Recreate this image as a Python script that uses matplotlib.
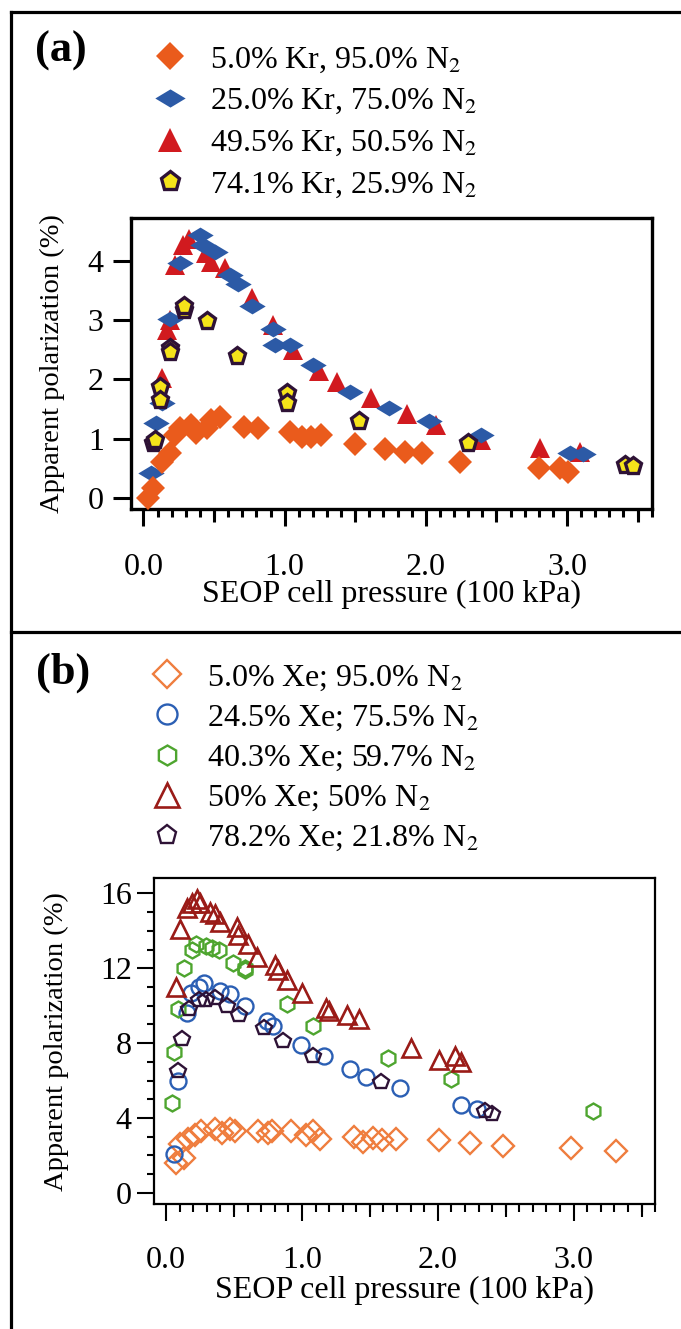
import matplotlib
matplotlib.use("Agg")
import matplotlib.pyplot as plt
from matplotlib.lines import Line2D
from matplotlib.ticker import MultipleLocator, FixedLocator, FormatStrFormatter

plt.rcParams['font.family'] = ['Liberation Serif', 'DejaVu Serif']
plt.rcParams['mathtext.fontset'] = 'stix'

# ---- panel (a): Kr mixtures ----
kr5_x = [0.03, 0.07, 0.13, 0.19, 0.22, 0.26, 0.34, 0.37, 0.45, 0.48, 0.54, 0.71, 0.81,
         1.04, 1.12, 1.19, 1.26, 1.50, 1.71, 1.85, 1.97, 2.24, 2.80, 2.95, 3.01]
kr5_y = [0.00, 0.16, 0.61, 0.75, 1.06, 1.18, 1.23, 1.09, 1.18, 1.32, 1.37, 1.20, 1.18,
         1.12, 1.03, 1.03, 1.06, 0.91, 0.83, 0.77, 0.75, 0.60, 0.50, 0.50, 0.43]

kr25_x = [0.05, 0.09, 0.13, 0.19, 0.26, 0.40, 0.42, 0.51, 0.61, 0.67, 0.77, 0.92, 0.93,
          1.04, 1.20, 1.46, 1.74, 2.02, 2.39, 3.02, 3.11]
kr25_y = [0.42, 1.26, 1.61, 3.02, 3.97, 4.45, 4.28, 4.15, 3.76, 3.62, 3.25, 2.86, 2.59,
          2.59, 2.24, 1.79, 1.51, 1.30, 1.06, 0.75, 0.74]

kr50_x = [0.13, 0.17, 0.19, 0.22, 0.28, 0.32, 0.44, 0.48, 0.58, 0.77, 0.92, 1.06, 1.24,
          1.37, 1.61, 1.87, 2.07, 2.39, 2.81, 3.09]
kr50_y = [2.02, 2.84, 3.00, 3.93, 4.27, 4.38, 4.13, 3.99, 3.88, 3.37, 2.92, 2.50, 2.14,
          1.96, 1.69, 1.42, 1.23, 0.98, 0.84, 0.77]

kr74_x = [0.07, 0.08, 0.12, 0.12, 0.19, 0.19, 0.29, 0.29, 0.45, 0.66, 1.02, 1.02, 1.53,
          2.30, 3.41, 3.47]
kr74_y = [0.92, 0.98, 1.88, 1.65, 2.53, 2.47, 3.17, 3.25, 2.99, 2.39, 1.77, 1.61, 1.30,
          0.92, 0.56, 0.54]

kr_labels = [r'5.0% Kr, 95.0% N$_2$', r'25.0% Kr, 75.0% N$_2$',
             r'49.5% Kr, 50.5% N$_2$', r'74.1% Kr, 25.9% N$_2$']

# ---- panel (b): Xe mixtures ----
xe5_x = [0.07, 0.13, 0.10, 0.16, 0.21, 0.26, 0.36, 0.41, 0.47, 0.51, 0.68, 0.75, 0.78,
         0.92, 1.03, 1.08, 1.13, 1.38, 1.45, 1.52, 1.59, 1.69, 2.01, 2.24, 2.48, 2.98, 3.31]
xe5_y = [1.6, 1.85, 2.6, 2.9, 3.1, 3.3, 3.4, 3.2, 3.4, 3.3, 3.3, 3.2, 3.3,
         3.3, 3.1, 3.3, 2.9, 3.0, 2.7, 2.95, 2.8, 2.9, 2.85, 2.65, 2.5, 2.4, 2.25]

xe24_x = [0.06, 0.09, 0.15, 0.18, 0.24, 0.28, 0.40, 0.47, 0.58, 0.74, 0.79, 0.99, 1.16,
          1.35, 1.47, 1.72, 2.17, 2.29]
xe24_y = [2.1, 6.0, 9.6, 10.7, 11.0, 11.2, 10.8, 10.6, 10.0, 9.2, 8.9, 7.9, 7.3,
          6.6, 6.2, 5.6, 4.7, 4.5]

xe40_x = [0.04, 0.06, 0.09, 0.13, 0.19, 0.22, 0.29, 0.34, 0.39, 0.49, 0.58, 0.58, 0.89,
          1.08, 1.63, 2.10, 3.14]
xe40_y = [4.8, 7.5, 9.8, 12.0, 13.0, 13.3, 13.2, 13.1, 13.0, 12.3, 11.9, 12.0, 10.1,
          8.9, 7.2, 6.1, 4.4]

xe50_x = [0.07, 0.10, 0.15, 0.19, 0.23, 0.25, 0.32, 0.36, 0.40, 0.52, 0.53, 0.60, 0.67,
          0.80, 0.82, 0.89, 1.00, 1.18, 1.20, 1.33, 1.42, 1.80, 2.01, 2.13, 2.17]
xe50_y = [11.0, 14.1, 15.2, 15.5, 15.7, 15.5, 15.0, 14.9, 14.5, 14.2, 13.8, 13.3, 12.6,
          12.2, 11.9, 11.4, 10.7, 9.9, 9.7, 9.5, 9.3, 7.75, 7.1, 7.3, 7.0]

xe78_x = [0.09, 0.12, 0.17, 0.24, 0.29, 0.36, 0.45, 0.54, 0.72, 0.86, 1.08, 1.58, 2.35, 2.40]
xe78_y = [6.5, 8.2, 9.8, 10.3, 10.3, 10.4, 10.0, 9.5, 8.8, 8.1, 7.3, 5.9, 4.4, 4.2]

xe_labels = [r'5.0% Xe; 95.0% N$_2$', r'24.5% Xe; 75.5% N$_2$', r'40.3% Xe; 59.7% N$_2$',
             r'50% Xe; 50% N$_2$', r'78.2% Xe; 21.8% N$_2$']

FS = 23
flat_diamond = [(-1, 0), (0, 0.6), (1, 0), (0, -0.6), (-1, 0)]

fig = plt.figure(figsize=(6.81, 13.29), dpi=100)

# outer frame and separator
fig.add_artist(Line2D([0.016, 1.0], [0.991, 0.991], color='black', lw=2.3))
fig.add_artist(Line2D([0.016, 0.016], [0.0, 0.991], color='black', lw=2.3))
fig.add_artist(Line2D([0.016, 1.0], [0.5245, 0.5245], color='black', lw=2.3))


def style_xaxis(ax, lw, tw, pad):
    ax.set_xlim(-0.09, 3.6)
    ax.xaxis.set_major_locator(MultipleLocator(1.0))
    ax.xaxis.set_minor_locator(MultipleLocator(0.1))
    ax.xaxis.set_major_formatter(FormatStrFormatter('%.1f'))
    ax.tick_params(axis='x', which='major', direction='out', length=12, width=tw,
                   labelsize=FS, pad=pad)
    ax.tick_params(axis='x', which='minor', direction='out', length=6, width=tw)
    sec = ax.secondary_xaxis('bottom')
    sec.xaxis.set_major_locator(FixedLocator([0.5, 1.5, 2.5, 3.5]))
    sec.tick_params(axis='x', direction='out', length=9, width=tw, labelbottom=False)
    sec.spines['bottom'].set_visible(False)
    for s in ax.spines.values():
        s.set_linewidth(lw)


# ---- (a) ----
ax1 = fig.add_axes([0.192, 0.617, 0.765, 0.219])
ax1.plot(kr50_x, kr50_y, '^', color='#d11a1f', ms=15, mew=0, label=kr_labels[2], zorder=3)
ax1.plot(kr25_x, kr25_y, marker=flat_diamond, ls='none', color='#2c5aa6', ms=19, mew=0,
         label=kr_labels[1], zorder=4)
ax1.plot(kr74_x, kr74_y, 'p', color='#f5e31a', mec='#2e1236', ms=12.5, mew=2.4,
         label=kr_labels[3], zorder=5)
ax1.plot(kr5_x, kr5_y, 'D', color='#ea5b1c', ms=12, mew=0, label=kr_labels[0], zorder=6)
ax1.set_ylim(-0.19, 4.73)
ax1.yaxis.set_major_locator(MultipleLocator(1))
ax1.tick_params(axis='y', direction='out', length=13, width=2.2, labelsize=FS, pad=6.5)
style_xaxis(ax1, 2.4, 2.2, 20)
ax1.set_xlabel('SEOP cell pressure (100 kPa)', fontsize=FS, labelpad=-2)
ax1.set_ylabel('Apparent polarization (%)', fontsize=20.5, labelpad=16.5)

h, l = ax1.get_legend_handles_labels()
order = [3, 1, 0, 2]
ax1.legend([h[i] for i in order], [l[i] for i in order], loc='upper left',
           bbox_to_anchor=(0.226, 0.966), bbox_transform=fig.transFigure, frameon=False,
           fontsize=FS, handlelength=1.0, handletextpad=0.75, borderpad=0,
           borderaxespad=0, labelspacing=0.38, markerscale=1.15)
fig.text(0.09, 0.962, '(a)', fontsize=32, fontweight='bold', ha='center', va='center')

# ---- (b) ----
ax2 = fig.add_axes([0.226, 0.094, 0.736, 0.245])
ax2.plot(xe5_x, xe5_y, 'D', mfc='none', mec='#ef7d3e', ms=11, mew=1.7, label=xe_labels[0])
ax2.plot(xe24_x, xe24_y, 'o', mfc='none', mec='#2b5fb4', ms=11.5, mew=1.7, label=xe_labels[1])
ax2.plot(xe40_x, xe40_y, 'h', mfc='none', mec='#4ea52f', ms=11.5, mew=1.7, label=xe_labels[2])
ax2.plot(xe50_x, xe50_y, '^', mfc='none', mec='#9a1b17', ms=13.5, mew=1.9, label=xe_labels[3])
ax2.plot(xe78_x, xe78_y, 'p', mfc='none', mec='#2e1236', ms=11.5, mew=1.7, label=xe_labels[4])
ax2.set_ylim(-0.6, 16.8)
ax2.yaxis.set_major_locator(MultipleLocator(4))
ax2.yaxis.set_minor_locator(MultipleLocator(1))
ax2.tick_params(axis='y', which='major', direction='out', length=12, width=1.5,
                labelsize=FS, pad=4)
ax2.tick_params(axis='y', which='minor', direction='out', length=5, width=1.5)
style_xaxis(ax2, 1.6, 1.5, 18)
ax2.set_xlabel('SEOP cell pressure (100 kPa)', fontsize=FS, labelpad=1)
ax2.set_ylabel('Apparent polarization (%)', fontsize=20.5, labelpad=22)
ax2.legend(loc='upper left', bbox_to_anchor=(0.222, 0.501), bbox_transform=fig.transFigure,
           frameon=False, fontsize=FS, handlelength=1.0, handletextpad=0.75, borderpad=0,
           borderaxespad=0, labelspacing=0.33, markerscale=1.25)
fig.text(0.092, 0.494, '(b)', fontsize=32, fontweight='bold', ha='center', va='center')

fig.savefig('out.png', dpi=100)
